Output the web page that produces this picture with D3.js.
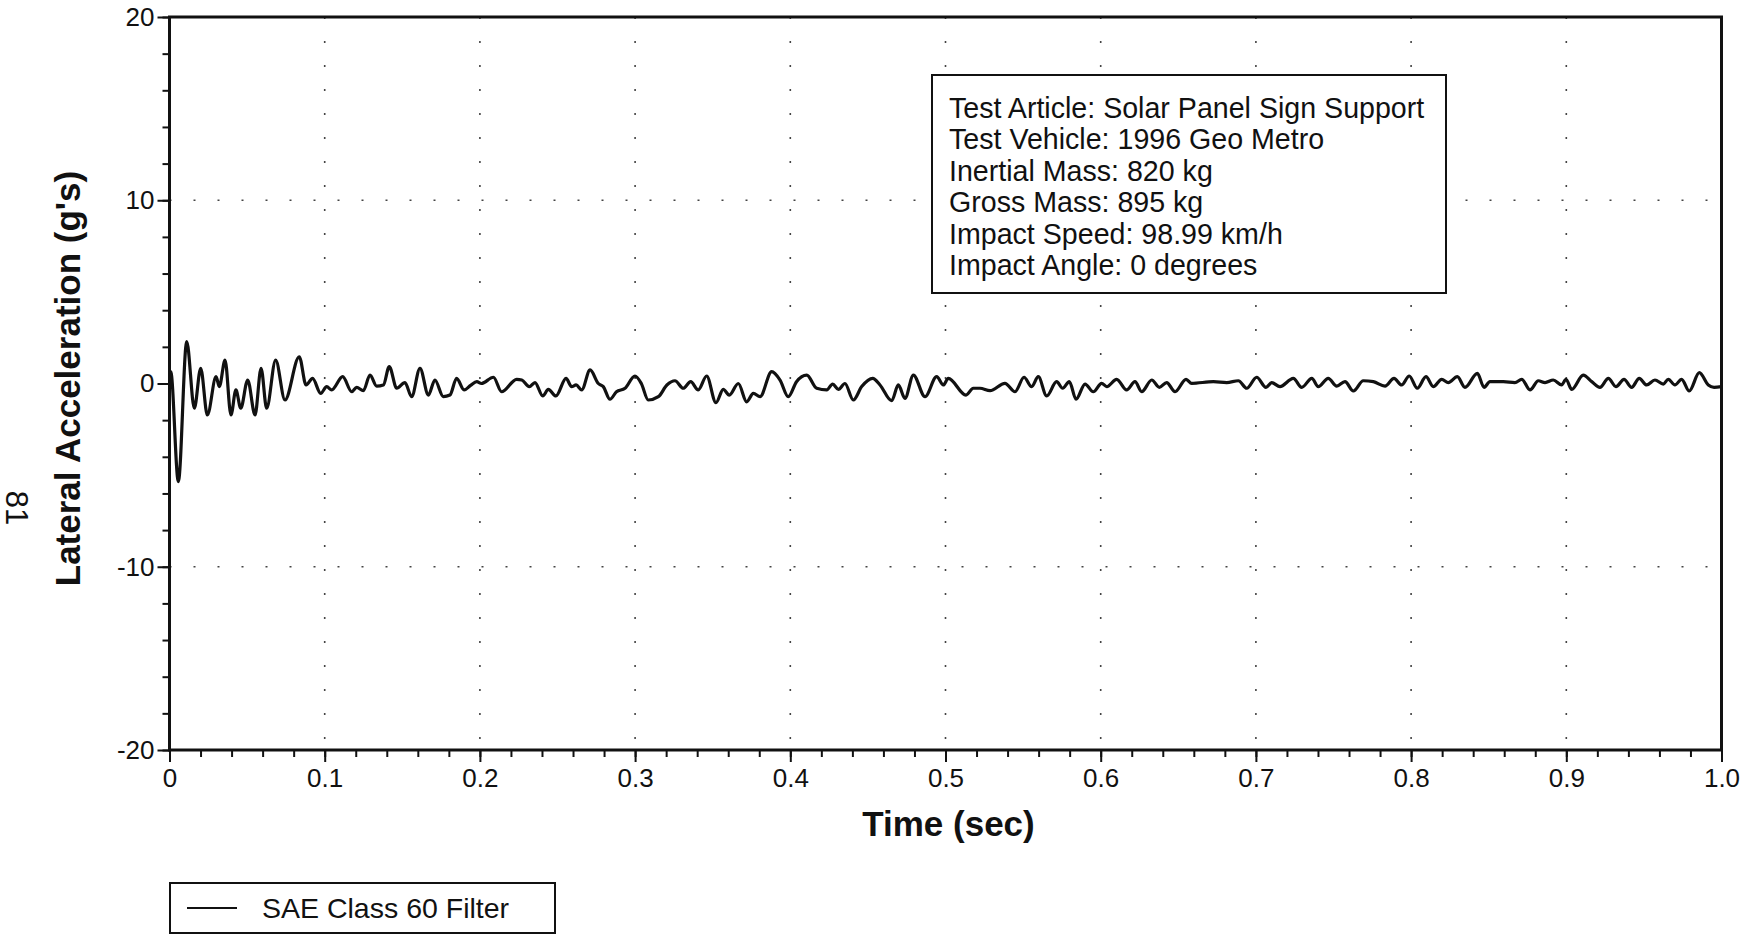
<!DOCTYPE html>
<html>
<head>
<meta charset="utf-8">
<script src="https://cdn.jsdelivr.net/npm/d3@7"></script>
<style>
  html, body { margin: 0; padding: 0; background: #fff; }
  svg { display: block; }
  text { font-family: "Liberation Sans", Arial, Helvetica, sans-serif; fill: #111; }
</style>
</head>
<body>
<svg id="chart" width="1746" height="935"></svg>
<script>
// ---- data ----
const times = [
  0.0000, 0.0008, 0.0057, 0.0111, 0.0160, 0.0201, 0.0244, 0.0300, 0.0321, 0.0358,
  0.0396, 0.0428, 0.0459, 0.0504, 0.0551, 0.0590, 0.0626, 0.0684, 0.0744, 0.0836,
  0.0880, 0.0922, 0.0974, 0.1013, 0.1045, 0.1116, 0.1174, 0.1206, 0.1249, 0.1292,
  0.1335, 0.1378, 0.1416, 0.1464, 0.1517, 0.1560, 0.1614, 0.1668, 0.1710, 0.1764,
  0.1807, 0.1850, 0.1898, 0.1940, 0.1980, 0.2010, 0.2087, 0.2140, 0.2237, 0.2270,
  0.2318, 0.2355, 0.2405, 0.2441, 0.2490, 0.2555, 0.2591, 0.2620, 0.2656, 0.2710,
  0.2763, 0.2795, 0.2838, 0.2880, 0.2935, 0.2999, 0.3040, 0.3085, 0.3150, 0.3205,
  0.3257, 0.3310, 0.3358, 0.3407, 0.3461, 0.3521, 0.3568, 0.3607, 0.3665, 0.3719,
  0.3762, 0.3805, 0.3880, 0.3934, 0.3987, 0.4040, 0.4106, 0.4170, 0.4235, 0.4273,
  0.4310, 0.4352, 0.4406, 0.4460, 0.4531, 0.4578, 0.4653, 0.4696, 0.4739, 0.4793,
  0.4868, 0.4943, 0.4986, 0.5018, 0.5132, 0.5179, 0.5222, 0.5287, 0.5383, 0.5448,
  0.5506, 0.5555, 0.5598, 0.5652, 0.5716, 0.5755, 0.5798, 0.5841, 0.5899, 0.5952,
  0.6006, 0.6039, 0.6103, 0.6167, 0.6221, 0.6264, 0.6329, 0.6378, 0.6425, 0.6479,
  0.6550, 0.6586, 0.6726, 0.6812, 0.6887, 0.6941, 0.7005, 0.7065, 0.7102, 0.7155,
  0.7241, 0.7295, 0.7360, 0.7402, 0.7466, 0.7521, 0.7574, 0.7628, 0.7692, 0.7757,
  0.7832, 0.7890, 0.7939, 0.7988, 0.8040, 0.8096, 0.8143, 0.8197, 0.8240, 0.8298,
  0.8347, 0.8427, 0.8470, 0.8508, 0.8594, 0.8669, 0.8713, 0.8766, 0.8820, 0.8863,
  0.8916, 0.8970, 0.8998, 0.9035, 0.9109, 0.9164, 0.9217, 0.9271, 0.9320, 0.9372,
  0.9421, 0.9470, 0.9518, 0.9571, 0.9625, 0.9657, 0.9700, 0.9743, 0.9792, 0.9857,
  0.9915, 0.9952, 1.0000
];
const accel = [
   0.00,  0.65, -5.35,  2.28, -1.35,  0.83, -1.72,  0.37, -0.17,  1.28,
  -1.72, -0.35, -1.35,  0.19, -1.72,  0.83, -1.35,  1.28, -0.90,  1.46,
  -0.08,  0.28, -0.54, -0.17, -0.35,  0.37, -0.45, -0.21, -0.39,  0.46,
  -0.14, -0.08,  0.92, -0.26,  0.05, -0.72,  0.83, -0.63,  0.19, -0.72,
  -0.63,  0.28, -0.35, -0.10,  0.10,  0.00,  0.34, -0.45,  0.23,  0.19,
  -0.17,  0.05, -0.68, -0.32, -0.68,  0.28, -0.17, -0.08, -0.35,  0.74,
   0.00, -0.17, -0.86, -0.45, -0.26,  0.41,  0.00, -0.90, -0.72, -0.08,
   0.15, -0.26,  0.10, -0.35,  0.41, -1.05, -0.32, -0.63,  0.00, -1.00,
  -0.54, -0.72,  0.65,  0.19, -0.72,  0.10,  0.46, -0.26, -0.35, -0.03,
  -0.32,  0.00, -0.90, -0.17,  0.28, -0.08, -0.94, -0.08, -0.81,  0.46,
  -0.72,  0.37, -0.08,  0.28, -0.63, -0.26, -0.26, -0.39,  0.01, -0.45,
   0.34, -0.17,  0.37, -0.68,  0.10, -0.26,  0.10, -0.86, -0.03, -0.45,
   0.01, -0.17,  0.23, -0.35,  0.10, -0.45,  0.19, -0.21,  0.05, -0.45,
   0.23,  0.01,  0.10,  0.05,  0.15, -0.26,  0.34, -0.21,  0.05, -0.17,
   0.28, -0.21,  0.28, -0.17,  0.28, -0.14,  0.10, -0.41,  0.15,  0.10,
  -0.14,  0.28, -0.08,  0.41, -0.26,  0.37, -0.17,  0.23,  0.05,  0.37,
  -0.21,  0.55, -0.21,  0.10,  0.10,  0.05,  0.23, -0.35,  0.15,  0.05,
   0.19, -0.08,  0.23, -0.32,  0.46,  0.10, -0.21,  0.28, -0.17,  0.23,
  -0.21,  0.28, -0.08,  0.19, -0.03,  0.23, -0.08,  0.23, -0.41,  0.59,
  -0.08, -0.21, -0.17
];
const xTickValues = [0, 0.1, 0.2, 0.3, 0.4, 0.5, 0.6, 0.7, 0.8, 0.9, 1.0];
const xTickLabels = ["0", "0.1", "0.2", "0.3", "0.4", "0.5", "0.6", "0.7", "0.8", "0.9", "1.0"];
const yTickValues = [-20, -10, 0, 10, 20];
const yTickLabels = ["-20", "-10", "0", "10", "20"];
const xGridValues = [0.1, 0.2, 0.3, 0.4, 0.5, 0.6, 0.7, 0.8, 0.9];
const yGridValues = [-10, 10];
const infoLines = [
  "Test Article: Solar Panel Sign Support",
  "Test Vehicle: 1996 Geo Metro",
  "Inertial Mass: 820 kg",
  "Gross Mass: 895 kg",
  "Impact Speed: 98.99 km/h",
  "Impact Angle: 0 degrees"
];
const xTitle = "Time (sec)";
const yTitle = "Lateral Acceleration (g's)";
const legendLabel = "SAE Class 60 Filter";
const pageNumber = "81";

// ---- layout ----
const svg = d3.select("#chart");
const L = 169.5, R = 1721.5, T = 17, B = 750;

const x = d3.scaleLinear().domain([0, 1]).range([L, R]);
const y = d3.scaleLinear().domain([-20, 20]).range([B, T]);

// grid (sparse dots)
const grid = svg.append("g").attr("stroke", "#444").attr("stroke-width", 1.6)
  .attr("stroke-dasharray", "2,22");
grid.selectAll("line.vx").data(xGridValues).join("line")
  .attr("x1", d => x(d)).attr("x2", d => x(d)).attr("y1", T).attr("y2", B);
grid.selectAll("line.hy").data(yGridValues).join("line")
  .attr("x1", L).attr("x2", R).attr("y1", d => y(d)).attr("y2", d => y(d));

// data line
const pts = times.map((t, i) => [t, accel[i]]);
svg.append("path").datum(pts)
  .attr("fill", "none").attr("stroke", "#111").attr("stroke-width", 3.2)
  .attr("stroke-linejoin", "round")
  .attr("d", d3.line().x(d => x(d[0])).y(d => y(d[1])).curve(d3.curveMonotoneX));

// axes
const xAxis = d3.axisBottom(x).tickValues(xTickValues)
  .tickFormat((d, i) => xTickLabels[i]).tickSize(12).tickPadding(7);
const gx = svg.append("g").attr("transform", `translate(0,${B})`).call(xAxis);
gx.select(".domain").remove();
gx.selectAll(".tick line").attr("stroke", "#111").attr("stroke-width", 2);
gx.selectAll(".tick text").attr("font-size", 26).attr("font-family", "Liberation Sans, Arial, sans-serif").attr("fill", "#111");

const xMinor = d3.axisBottom(x).tickValues(d3.range(0, 1.0001, 0.02)).tickSize(7).tickFormat("");
const gxm = svg.append("g").attr("transform", `translate(0,${B})`).call(xMinor);
gxm.select(".domain").remove();
gxm.selectAll(".tick line").attr("stroke", "#111").attr("stroke-width", 2);

const yAxis = d3.axisLeft(y).tickValues(yTickValues)
  .tickFormat((d, i) => yTickLabels[i]).tickSize(12).tickPadding(3);
const gy = svg.append("g").attr("transform", `translate(${L},0)`).call(yAxis);
gy.select(".domain").remove();
gy.selectAll(".tick line").attr("stroke", "#111").attr("stroke-width", 2);
gy.selectAll(".tick text").attr("font-size", 26).attr("font-family", "Liberation Sans, Arial, sans-serif").attr("fill", "#111");

const yMinor = d3.axisLeft(y).tickValues(d3.range(-20, 20.001, 2)).tickSize(7).tickFormat("");
const gym = svg.append("g").attr("transform", `translate(${L},0)`).call(yMinor);
gym.select(".domain").remove();
gym.selectAll(".tick line").attr("stroke", "#111").attr("stroke-width", 2);

// frame
svg.append("rect").attr("x", L).attr("y", T).attr("width", R - L).attr("height", B - T)
  .attr("fill", "none").attr("stroke", "#111").attr("stroke-width", 3);

// axis titles
svg.append("text").attr("x", (L + R) / 2 + 3).attr("y", 836)
  .attr("text-anchor", "middle").attr("font-size", 35).attr("font-weight", "bold")
  .text(xTitle);
svg.append("text").attr("transform", `translate(80,${(167 + 590) / 2}) rotate(-90)`)
  .attr("text-anchor", "middle").attr("font-size", 35).attr("font-weight", "bold")
  .text(yTitle);

// page number (rotated)
svg.append("text").attr("transform", "translate(6,508) rotate(90)")
  .attr("text-anchor", "middle").attr("font-size", 31)
  .attr("font-family", "Liberation Serif, Times New Roman, serif")
  .text(pageNumber);

// info box
const box = svg.append("g");
box.append("rect").attr("x", 932).attr("y", 75).attr("width", 514).attr("height", 218)
  .attr("fill", "#fff").attr("stroke", "#111").attr("stroke-width", 2);
box.selectAll("text").data(infoLines).join("text")
  .attr("x", 949).attr("y", (d, i) => 118 + i * 31.4)
  .attr("font-size", 28.6).text(d => d);

// legend
const lg = svg.append("g");
lg.append("rect").attr("x", 170).attr("y", 883).attr("width", 385).attr("height", 50)
  .attr("fill", "#fff").attr("stroke", "#111").attr("stroke-width", 2);
lg.append("line").attr("x1", 187).attr("x2", 237).attr("y1", 908).attr("y2", 908)
  .attr("stroke", "#111").attr("stroke-width", 2);
lg.append("text").attr("x", 262).attr("y", 918).attr("font-size", 28.5).text(legendLabel);
</script>
</body>
</html>
